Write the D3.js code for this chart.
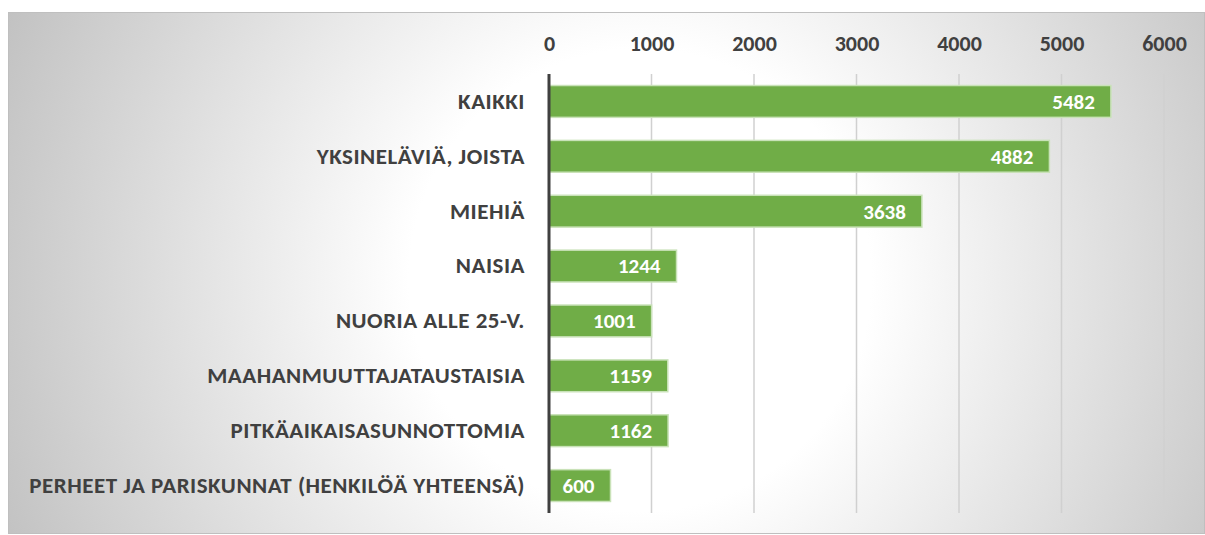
<!DOCTYPE html>
<html>
<head>
<meta charset="utf-8">
<script src="https://cdn.jsdelivr.net/npm/d3@7"></script>
<style>
  html, body { margin: 0; padding: 0; background: #fff; }
  svg text { font-family: Carlito, "Liberation Sans Narrow", Lato, sans-serif; font-weight: bold; }
</style>
</head>
<body>
<div id="chart"></div>
<script>
const categories = [
  "KAIKKI",
  "YKSINELÄVIÄ, JOISTA",
  "MIEHIÄ",
  "NAISIA",
  "NUORIA ALLE 25-V.",
  "MAAHANMUUTTAJATAUSTAISIA",
  "PITKÄAIKAISASUNNOTTOMIA",
  "PERHEET JA PARISKUNNAT (HENKILÖÄ YHTEENSÄ)"
];
const values = [5482, 4882, 3638, 1244, 1001, 1159, 1162, 600];
const tickValues = [0, 1000, 2000, 3000, 4000, 5000, 6000];

const W = 1205, H = 535;
const margin = { top: 74, right: 41, bottom: 22, left: 549 };
const width = W - margin.left - margin.right,
      height = H - margin.top - margin.bottom;

const svg = d3.select("#chart")
  .append("svg")
  .attr("width", W)
  .attr("height", H);

// fondo con degradado radial
const grad = svg.append("defs").append("radialGradient")
  .attr("id", "bg")
  .attr("gradientUnits", "userSpaceOnUse")
  .attr("cx", 640).attr("cy", 280).attr("r", 700);
grad.append("stop").attr("offset", 0).attr("stop-color", "#ffffff");
grad.append("stop").attr("offset", 0.33).attr("stop-color", "#ffffff");
grad.append("stop").attr("offset", 1).attr("stop-color", "#c0c0c0");

svg.append("rect")
  .attr("x", 8.5).attr("y", 12.5)
  .attr("width", W - 9).attr("height", H - 14)
  .attr("fill", "url(#bg)")
  .attr("stroke", "#bfbfbf")
  .attr("stroke-width", 1);

const g = svg.append("g")
  .attr("transform", `translate(${margin.left},${margin.top})`);

const x = d3.scaleLinear().domain([0, 6000]).range([0, width]);
const y = d3.scaleBand().domain(categories).range([0, height])
  .paddingInner(0.42).paddingOuter(0.21);

// líneas de cuadrícula
g.append("g")
  .selectAll("line")
  .data(tickValues.slice(1))
  .enter().append("line")
  .attr("x1", d => x(d)).attr("x2", d => x(d))
  .attr("y1", 0).attr("y2", height)
  .attr("stroke", "#d0d0d0")
  .attr("stroke-width", 1.5);

// eje superior (solo etiquetas)
const xAxis = g.append("g")
  .call(d3.axisTop(x).tickValues(tickValues).tickFormat(d3.format("d")).tickSize(0).tickPadding(23));
xAxis.select(".domain").remove();
xAxis.selectAll("text")
  .attr("fill", "#404040")
  .style("font-size", "22px");

// barras
g.selectAll(".bar")
  .data(values)
  .enter().append("rect")
  .attr("class", "bar")
  .attr("x", 0)
  .attr("y", (d, i) => y(categories[i]))
  .attr("width", d => x(d))
  .attr("height", y.bandwidth())
  .attr("fill", "#70ad47")
  .attr("stroke", "#c9e2b8")
  .attr("stroke-width", 1.5);

// etiquetas de valor
g.selectAll(".val")
  .data(values)
  .enter().append("text")
  .attr("class", "val")
  .attr("x", d => x(d) - 16)
  .attr("y", (d, i) => y(categories[i]) + y.bandwidth() / 2)
  .attr("dy", "0.35em")
  .attr("text-anchor", "end")
  .attr("fill", "#ffffff")
  .style("font-size", "21px")
  .text(d => d);

// eje izquierdo
const yAxis = g.append("g")
  .call(d3.axisLeft(y).tickSize(0).tickPadding(24));
yAxis.select(".domain").remove();
yAxis.selectAll("text")
  .attr("fill", "#404040")
  .style("font-size", "23px")
  .style("letter-spacing", "0.5px");

// línea del cero
g.append("line")
  .attr("x1", 0).attr("x2", 0)
  .attr("y1", 0).attr("y2", height)
  .attr("stroke", "#404040")
  .attr("stroke-width", 3);
</script>
</body>
</html>
